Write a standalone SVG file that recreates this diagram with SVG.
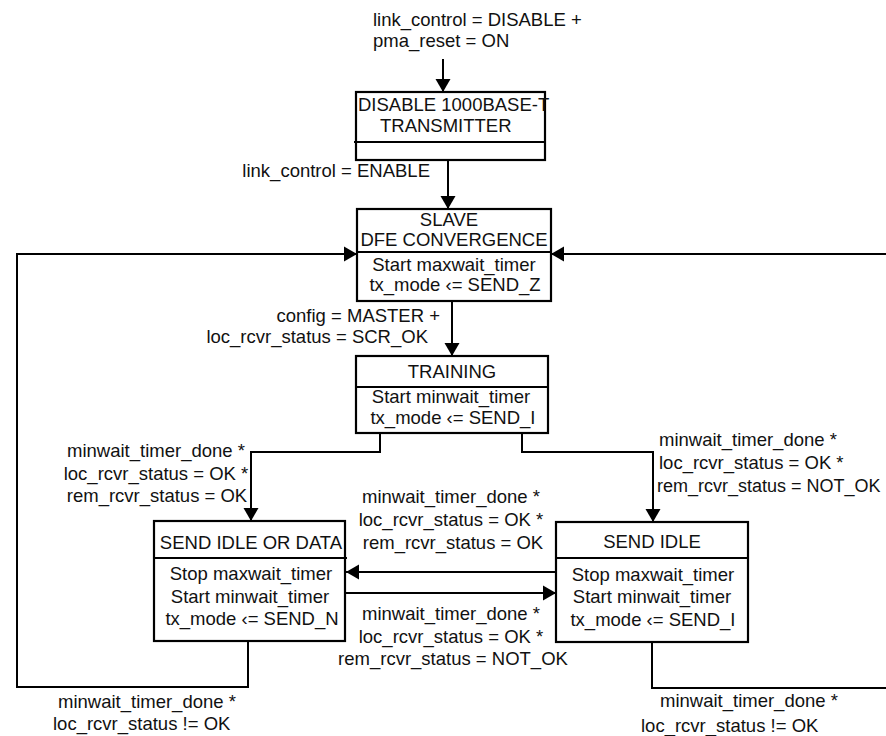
<svg xmlns="http://www.w3.org/2000/svg" width="886" height="736" viewBox="0 0 886 736">
  <style>
    .box { fill: #fff; stroke: #000; stroke-width: 2.2; }
    .div { stroke: #000; stroke-width: 2.2; fill: none; }
    .wire { stroke: #000; stroke-width: 2; fill: none; }
    .arr { marker-end: url(#head); }
    text { font-family: "Liberation Sans", Arial, sans-serif; font-size: 18.5px; fill: #111; }
    .c { text-anchor: middle; }
    .e { text-anchor: end; }
  </style>
  <defs>
    <marker id="head" markerUnits="userSpaceOnUse" markerWidth="16" markerHeight="16" refX="13" refY="8" orient="auto">
      <path d="M0,0.5 L13,8 L0,15.5 z" fill="#000"/>
    </marker>
  </defs>
  <rect width="886" height="736" fill="#fff"/>

  <!-- transitions -->
  <g id="connectors">
    <path class="wire arr" d="M443,59 V92"/>
    <path class="wire arr" d="M448,160 V209"/>
    <path class="wire arr" d="M452,301 V356"/>
    <path class="wire arr" d="M380,433 V452 H251 V521"/>
    <path class="wire arr" d="M522,433 V452 H653 V522"/>
    <path class="wire arr" d="M556,572 H346"/>
    <path class="wire arr" d="M345,593 H556"/>
    <path class="wire arr" d="M248,641 V687 H17 V254 H357"/>
    <path class="wire arr" d="M652,642 V688 H900 V254 H551"/>

    <text x="373" y="26">link_control = DISABLE +</text>
    <text x="373" y="47">pma_reset = ON</text>
    <text class="e" x="430" y="177">link_control = ENABLE</text>
    <text class="e" x="440" y="322">config = MASTER +</text>
    <text class="e" x="428" y="343">loc_rcvr_status = SCR_OK</text>

    <text class="c" x="156" y="457">minwait_timer_done *</text>
    <text class="c" x="156" y="480">loc_rcvr_status = OK *</text>
    <text class="c" x="157" y="502">rem_rcvr_status = OK</text>

    <text x="659" y="446">minwait_timer_done *</text>
    <text x="659" y="469">loc_rcvr_status = OK *</text>
    <text x="657" y="492" style="font-size:18px">rem_rcvr_status = NOT_OK</text>

    <text class="c" x="451" y="503">minwait_timer_done *</text>
    <text class="c" x="451" y="526">loc_rcvr_status = OK *</text>
    <text class="c" x="453" y="549">rem_rcvr_status = OK</text>

    <text class="c" x="451" y="620">minwait_timer_done *</text>
    <text class="c" x="451" y="643">loc_rcvr_status = OK *</text>
    <text class="c" x="453" y="665">rem_rcvr_status = NOT_OK</text>

    <text x="58" y="708">minwait_timer_done *</text>
    <text x="53" y="730">loc_rcvr_status != OK</text>
    <text x="660" y="707">minwait_timer_done *</text>
    <text x="641" y="732">loc_rcvr_status != OK</text>
  </g>

  <!-- states -->
  <g id="disable-transmitter">
    <rect class="box" x="356" y="92" width="189" height="68"/>
    <path class="div" d="M354,142 H545"/>
    <text x="358" y="111">DISABLE 1000BASE-T</text>
    <text x="380" y="132">TRANSMITTER</text>
  </g>

  <g id="slave-dfe-convergence">
    <rect class="box" x="357" y="209" width="194" height="92"/>
    <path class="div" d="M357,252 H551"/>
    <text class="c" x="449" y="226">SLAVE</text>
    <text class="c" x="454" y="246">DFE CONVERGENCE</text>
    <text class="c" x="454" y="271">Start maxwait_timer</text>
    <text class="c" x="455" y="291">tx_mode ‹= SEND_Z</text>
  </g>

  <g id="training">
    <rect class="box" x="356" y="356" width="192" height="77"/>
    <path class="div" d="M356,387 H548"/>
    <text class="c" x="452" y="378">TRAINING</text>
    <text class="c" x="451" y="403">Start minwait_timer</text>
    <text class="c" x="453" y="424">tx_mode ‹= SEND_I</text>
  </g>

  <g id="send-idle-or-data">
    <rect class="box" x="154" y="521" width="191" height="120"/>
    <path class="div" d="M154,558 H347"/>
    <text class="c" x="251" y="549">SEND IDLE OR DATA</text>
    <text class="c" x="251" y="580">Stop maxwait_timer</text>
    <text class="c" x="250" y="603">Start minwait_timer</text>
    <text class="c" x="252" y="625">tx_mode ‹= SEND_N</text>
  </g>

  <g id="send-idle">
    <rect class="box" x="556" y="522" width="192" height="120"/>
    <path class="div" d="M556,558 H748"/>
    <text class="c" x="652" y="548">SEND IDLE</text>
    <text class="c" x="653" y="581">Stop maxwait_timer</text>
    <text class="c" x="652" y="603">Start minwait_timer</text>
    <text class="c" x="653" y="626">tx_mode ‹= SEND_I</text>
  </g>
</svg>
